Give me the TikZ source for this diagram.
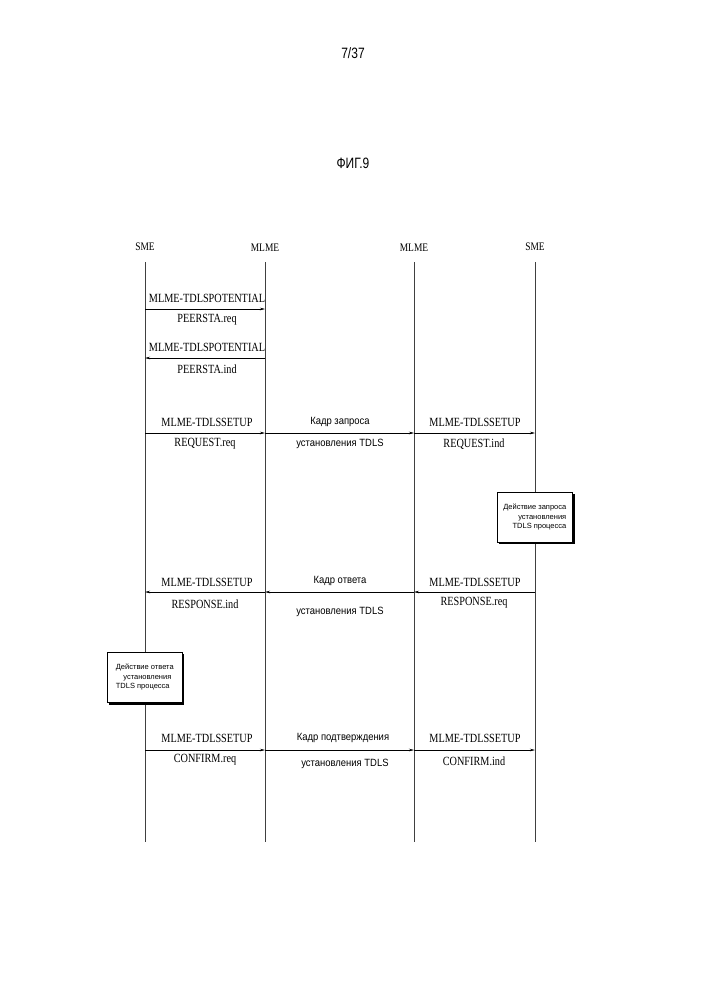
\documentclass[tikz,border=0pt]{standalone}
\usepackage{fontspec}
\setmainfont{Liberation Serif}
\newfontfamily\ssf{Liberation Sans}
\usetikzlibrary{arrows.meta}
\begin{document}
\begin{tikzpicture}[x=1pt,y=-1pt,
  life/.style={line width=0.5pt,draw=black!75},
  msg/.style={line width=0.5pt,-{Stealth[length=5pt,width=2.5pt]}},
  lbl/.style={font=\fontsize{12.5}{13}\selectfont,xscale=0.82,inner sep=1pt},
  rlbl/.style={font=\ssf\fontsize{10.5}{12}\selectfont,xscale=0.9,inner sep=1pt},
  hd/.style={font=\fontsize{11.5}{12}\selectfont,xscale=0.82},
  act/.style={draw,line width=0.6pt,fill=white,font=\ssf\fontsize{7.5}{9.5}\selectfont,align=right,inner sep=3pt,minimum width=75pt,minimum height=50pt,xscale=1}]
\useasboundingbox (0,0) rectangle (707,1000);
\node[font=\ssf\fontsize{15}{16}\selectfont,xscale=0.8] (pg) at (353,53) {7/37};
\node[font=\ssf\fontsize{15}{16}\selectfont,xscale=0.8] (fig) at (353,163) {ФИГ.9};
\node[hd] (h1) at (145,247) {SME};
\node[hd] (h2) at (265,248) {MLME};
\node[hd] (h3) at (414,248) {MLME};
\node[hd] (h4) at (535,247) {SME};
\foreach \n/\x in {a/145,b/265,c/414,d/535}{
  \coordinate (\n0) at (\x,262); \coordinate (\n1) at (\x,842);
  \draw[life] (\n0) -- (\n1);
  \foreach \k/\y in {1/309,2/358,3/433,4/592,5/750}{\coordinate (\n m\k) at (\x,\y);}
}
\fill[black] (499,494) rectangle (575,544);
\node[act,anchor=north west] (ra) at (497,492) {Действие запроса\\установления\\TDLS процесса};
\fill[black] (109,654) rectangle (184,705);
\node[act,anchor=north west,align=left] (la) at (107,652) {Действие ответа\\\quad установления\\TDLS процесса};
\draw[msg] (am1) -- (bm1);
\node[lbl] at (207,298) {MLME-TDLSPOTENTIAL};
\node[lbl] at (207,320) {PEERSTA.req};
\draw[msg] (bm2) -- (am2);
\node[lbl] at (207,347) {MLME-TDLSPOTENTIAL};
\node[lbl] at (207,369) {PEERSTA.ind};
\draw[msg] (am3) -- (bm3);
\draw[msg] (bm3) -- (cm3);
\draw[msg] (cm3) -- (dm3);
\node[lbl] at (207,422) {MLME-TDLSSETUP};
\node[lbl] at (205,444) {REQUEST.req};
\node[rlbl] at (340,422) {Кадр запроса};
\node[rlbl] at (340,444) {установления TDLS};
\node[lbl] at (475,422) {MLME-TDLSSETUP};
\node[lbl] at (474,444) {REQUEST.ind};
\draw[msg] (dm4) -- (cm4);
\draw[msg] (cm4) -- (bm4);
\draw[msg] (bm4) -- (am4);
\node[lbl] at (207,582) {MLME-TDLSSETUP};
\node[lbl] at (205,604) {RESPONSE.ind};
\node[rlbl] at (340,581) {Кадр ответа};
\node[rlbl] at (340,612) {установления TDLS};
\node[lbl] at (475,582) {MLME-TDLSSETUP};
\node[lbl] at (474,603) {RESPONSE.req};
\draw[msg] (am5) -- (bm5);
\draw[msg] (bm5) -- (cm5);
\draw[msg] (cm5) -- (dm5);
\node[lbl] at (207,738) {MLME-TDLSSETUP};
\node[lbl] at (205,760) {CONFIRM.req};
\node[rlbl] at (343,738) {Кадр подтверждения};
\node[rlbl] at (345,764) {установления TDLS};
\node[lbl] at (475,738) {MLME-TDLSSETUP};
\node[lbl] at (474,761) {CONFIRM.ind};
\end{tikzpicture}
\end{document}
